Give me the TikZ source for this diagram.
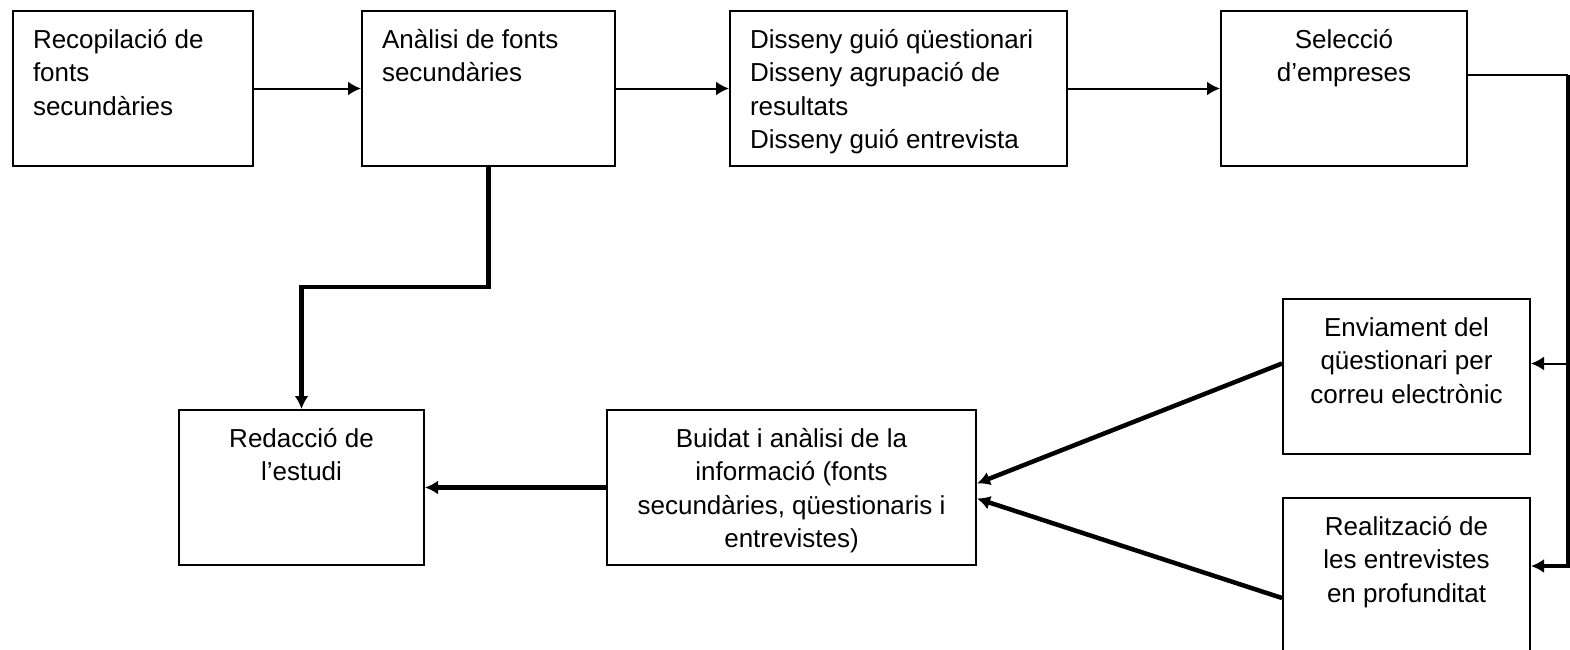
\documentclass[tikz,border=0pt]{standalone}
\usepackage{fontspec}
\setmainfont{Liberation Sans}
\usetikzlibrary{calc}
\usetikzlibrary{arrows.meta}

\newcommand{\lefttext}[2]{\parbox[t][155pt][t]{#1}{\fontsize{26}{33.5}\selectfont\vspace*{14pt}\raggedright\strut #2}}
\newcommand{\midtext}[2]{\parbox[t][155pt][t]{#1}{\fontsize{26}{33.5}\selectfont\vspace*{14pt}\centering\strut #2}}

\begin{document}
\begin{tikzpicture}[x=1pt, y=-1pt,
		leftbox/.style={draw, line width=2pt, anchor=north west, inner xsep=20pt, inner ysep=0pt},
		midbox/.style={draw, line width=2pt, anchor=north west, inner xsep=5pt, inner ysep=0pt},
		thinline/.style={line width=2pt},
		thickline/.style={line width=4.5pt},
		arr/.style={-{Latex[length=13pt,width=14pt]}}]
		\path[use as bounding box, fill=white] (0,0) rectangle (1570,649);
		\node (recop) [leftbox] at (12,10) {\lefttext{200pt}{Recopilació de\\ fonts\\ secundàries}};
		\node (anal) [leftbox] at (361,10) {\lefttext{213pt}{Anàlisi de fonts\\ secundàries}};
		\node (diss) [leftbox] at (729,10) {\lefttext{297pt}{Disseny guió qüestionari\\ Disseny agrupació de\\ resultats\\ Disseny guió entrevista}};
		\node (sel) [midbox] at (1220,10) {\midtext{236pt}{Selecció\\ d'empreses}};
		\node (env) [midbox] at (1282,298) {\midtext{237pt}{Enviament del\\ qüestionari per\\ correu electrònic}};
		\node (real) [midbox] at (1282,497) {\midtext{237pt}{Realització de\\ les entrevistes\\ en profunditat}};
		\node (buid) [midbox] at (606,409) {\midtext{359pt}{Buidat i anàlisi de la\\ informació (fonts\\ secundàries, qüestionaris i\\ entrevistes)}};
		\node (red) [midbox] at (178,409) {\midtext{235pt}{Redacció de\\ l'estudi}};
		
		\coordinate (selout) at ($(sel.east)+(0,-14)$);
		\coordinate (rtop) at ($(selout)+(100,0)$);
		\coordinate (envin) at ($(env.east)+(0,-13)$);
		\coordinate (realin) at ($(real.east)+(0,-9.5)$);
		
		\draw [thinline,arr] (recop) -- (anal);
		\draw [thinline,arr] (anal) -- (diss);
		\draw [thinline,arr] (diss) -- (sel);
		\draw [thinline] (selout) -- (rtop);
		\draw [thickline,arr] (rtop) |- (realin);
		\draw [thinline,arr] (rtop |- envin) -- (envin);
		\draw [thickline,arr] (anal.south) -- ++(0,120) -| (red.north);
		\draw [thickline,arr] ($(env.west)+(0,-13)$) -- ($(buid.east)+(0,-4)$);
		\draw [thickline,arr] ($(real.west)+(0,22.5)$) -- ($(buid.east)+(0,11)$);
		\draw [thickline,arr] (buid) -- (red);
	\end{tikzpicture}
\end{document}
